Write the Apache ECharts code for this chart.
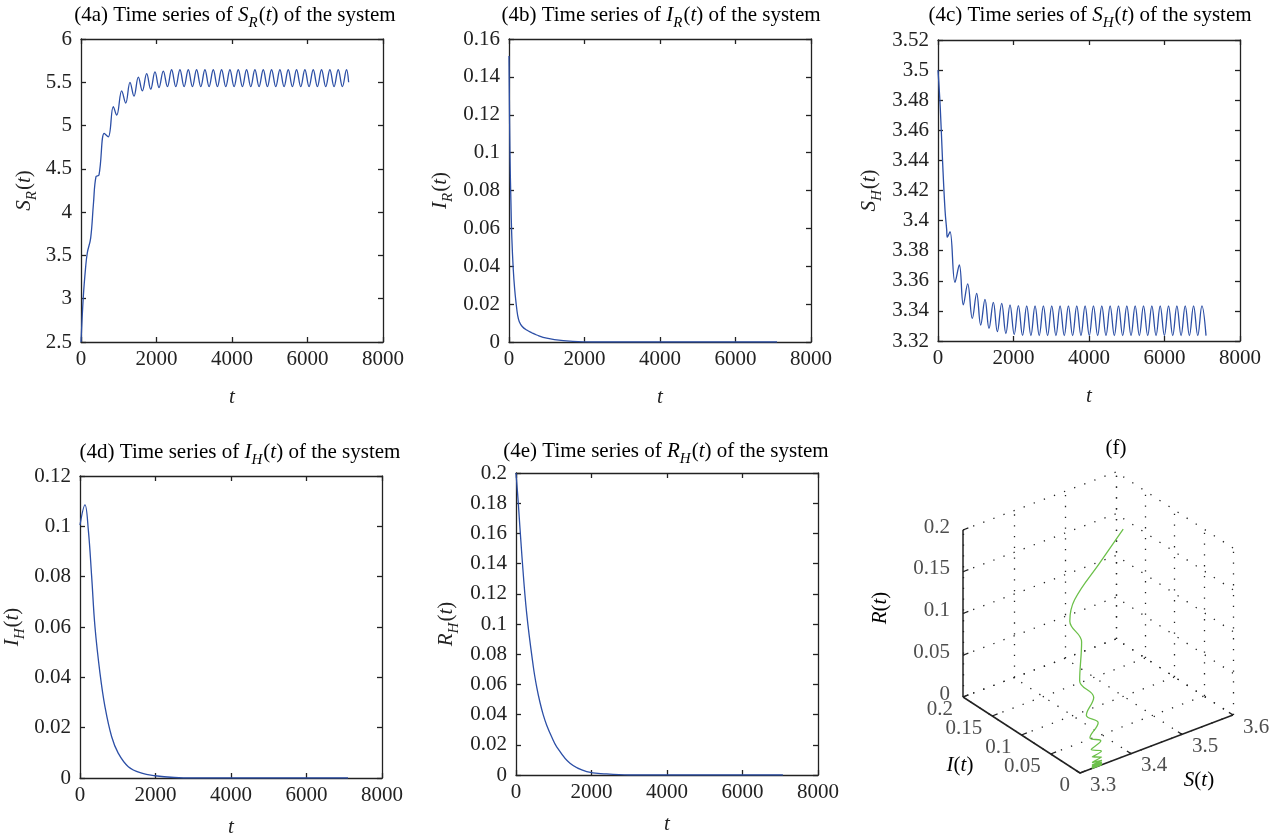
<!DOCTYPE html>
<html lang="en">
<head>
<meta charset="UTF-8">
<title>Time series of the system</title>
<style>
  html, body { margin: 0; padding: 0; background: #fff; }
  #main { width: 1271px; height: 836px; }
</style>
</head>
<body>
<div id="main"></div>
<script src="https://cdn.jsdelivr.net/npm/echarts@6/dist/echarts.min.js"></script>
<script>
// values, [t, value]
var tTicks = [0, 8000, 2000];

var sR = [[0, 2.5], [61, 3.02], [120, 3.35], [167, 3.53], [256, 3.70], [330, 4.1], [397, 4.41], [477, 4.43],
  [617, 4.91], [723, 4.87], [856, 5.22], [945, 5.12], [1078, 5.40], [1184, 5.26], [1298, 5.50], [1404, 5.34],
  [1519, 5.56], [1625, 5.40], [1740, 5.60], [1846, 5.42], [1960, 5.62], [2066, 5.44], [2180, 5.63], [2290, 5.45],
  [2400, 5.645], [2511, 5.45], [2621, 5.645], [2731, 5.45], [2842, 5.645], [2952, 5.45], [3062, 5.645], [3173, 5.45],
  [3283, 5.645], [3393, 5.45], [3504, 5.645], [3614, 5.45], [3724, 5.645], [3835, 5.45], [3945, 5.645], [4055, 5.45],
  [4166, 5.645], [4276, 5.45], [4386, 5.645], [4497, 5.45], [4607, 5.645], [4717, 5.45], [4828, 5.645], [4938, 5.45],
  [5048, 5.645], [5159, 5.45], [5269, 5.645], [5379, 5.45], [5490, 5.645], [5600, 5.45], [5710, 5.645], [5821, 5.45],
  [5931, 5.645], [6041, 5.45], [6152, 5.645], [6262, 5.45], [6372, 5.645], [6483, 5.45], [6593, 5.645], [6703, 5.45],
  [6814, 5.645], [6924, 5.45], [7034, 5.645], [7090, 5.50]];

var iR = [[0, 0.151], [25, 0.10], [50, 0.075], [75, 0.055], [114, 0.038], [150, 0.028], [185, 0.021], [230, 0.014],
  [273, 0.0107], [350, 0.0082], [469, 0.0063], [600, 0.0049], [733, 0.0037], [998, 0.0020], [1440, 0.0007],
  [1970, 0.0001], [2500, 0], [7100, 0]];

var sH = [[0, 3.5], [60, 3.475], [120, 3.44], [186, 3.407], [230, 3.394], [247, 3.389], [318, 3.3926], [450, 3.359],
  [565, 3.3705], [671, 3.344], [786, 3.358], [909, 3.335], [1024, 3.3517], [1131, 3.3306], [1245, 3.3477],
  [1351, 3.3284], [1466, 3.3457], [1572, 3.3262], [1687, 3.345], [1798, 3.325], [1908, 3.344], [2019, 3.3243],
  [2129, 3.3435], [2240, 3.3237], [2350, 3.3433], [2461, 3.3236], [2571, 3.3433], [2682, 3.3236], [2792, 3.3433],
  [2903, 3.3236], [3013, 3.3433], [3124, 3.3236], [3234, 3.3433], [3345, 3.3236], [3455, 3.3433], [3566, 3.3236],
  [3676, 3.3433], [3787, 3.3236], [3897, 3.3433], [4008, 3.3236], [4118, 3.3433], [4229, 3.3236], [4339, 3.3433],
  [4450, 3.3236], [4560, 3.3433], [4671, 3.3236], [4781, 3.3433], [4892, 3.3236], [5002, 3.3433], [5113, 3.3236],
  [5223, 3.3433], [5334, 3.3236], [5444, 3.3433], [5555, 3.3236], [5665, 3.3433], [5776, 3.3236], [5886, 3.3433],
  [5997, 3.3236], [6107, 3.3433], [6218, 3.3236], [6328, 3.3433], [6439, 3.3236], [6549, 3.3433], [6660, 3.3236],
  [6770, 3.3433], [6881, 3.3236], [6991, 3.3433], [7100, 3.3236]];

var iH = [[0, 0.1005], [132, 0.1085], [221, 0.0985], [309, 0.080], [397, 0.060], [530, 0.0416], [662, 0.0283],
  [839, 0.0164], [1015, 0.0098], [1280, 0.0045], [1634, 0.0019], [1987, 0.0009], [2500, 0.0002], [3000, 0], [7100, 0]];

var rH = [[0, 0.2], [61, 0.180], [151, 0.147], [283, 0.107], [459, 0.0717], [550, 0.058], [636, 0.048],
  [720, 0.040], [813, 0.033], [950, 0.025], [1078, 0.0187], [1430, 0.0077], [1873, 0.0022], [2400, 0.0007],
  [3000, 0], [7070, 0]];

// (f) trajectory [S, I, R]
var traj = [[3.5, 0.1005, 0.2], [3.46, 0.106, 0.166], [3.407, 0.1025, 0.136], [3.389, 0.095, 0.118],
  [3.3926, 0.078, 0.100], [3.359, 0.052, 0.073], [3.3705, 0.038, 0.057], [3.344, 0.0275, 0.0465],
  [3.358, 0.0195, 0.038], [3.335, 0.0135, 0.028], [3.3517, 0.0095, 0.0223], [3.3306, 0.0075, 0.0175],
  [3.3477, 0.005, 0.013], [3.3284, 0.0038, 0.011], [3.3457, 0.0028, 0.0072], [3.3262, 0.0022, 0.0055],
  [3.345, 0.0018, 0.004], [3.325, 0.0013, 0.003], [3.344, 0.001, 0.0024], [3.3243, 0.0008, 0.0019],
  [3.3435, 0.0006, 0.0014], [3.3237, 0.0005, 0.001], [3.3433, 0.0003, 0.0008], [3.3236, 0.0002, 0.0006],
  [3.3433, 0.0001, 0.0004], [3.3236, 0.0001, 0.0003], [3.3433, 0, 0.0002], [3.3236, 0, 0.0001],
  [3.3433, 0, 0], [3.3236, 0, 0], [3.3433, 0, 0], [3.3236, 0, 0]];
var fS = [3.3, 3.4, 3.5, 3.6];
var fI = [0, 0.05, 0.1, 0.15, 0.2];
var fR = [0, 0.05, 0.1, 0.15, 0.2];

var FONT = "'Liberation Serif', 'DejaVu Serif', serif";
var INK = '#222';
var BLUE = '#2c4fa6';
var GREEN = '#6cc04a';
var rich = {
  n: { fontFamily: FONT, fontSize: 21, color: INK },
  i: { fontFamily: FONT, fontSize: 21, fontStyle: 'italic', color: INK },
  sub: { fontFamily: FONT, fontSize: 15, fontStyle: 'italic', color: INK, padding: [16, 1, 0, 0] }
};
function sym(a, b) {
  return '{i|' + a + '}' + (b ? '{sub|' + b + '}' : '') + '{n|(}{i|t}{n|)}';
}

var panels = [
  { tag: '4a', a: 'S', b: 'R', data: sR, box: [81, 39, 302, 303], y: [2.5, 6, 0.5], title: [235, 15], yGap: 41, tGap: 45 },
  { tag: '4b', a: 'I', b: 'R', data: iR, box: [509, 39, 302, 303], y: [0, 0.16, 0.02], title: [661, 15], yGap: 53, tGap: 45 },
  { tag: '4c', a: 'S', b: 'H', data: sH, box: [938, 40, 302, 301], y: [3.32, 3.52, 0.02], title: [1090, 15], yGap: 53, tGap: 45 },
  { tag: '4d', a: 'I', b: 'H', data: iH, box: [80, 476, 302, 302], y: [0, 0.12, 0.02], title: [240, 452], yGap: 52, tGap: 39 },
  { tag: '4e', a: 'R', b: 'H', data: rH, box: [516, 473, 302, 302], y: [0, 0.2, 0.02], title: [666, 451], yGap: 54, tGap: 39 }
];

function plain(v) { return String(v); }

function axis(range, pos, labels) {
  return {
    type: 'value', position: pos, min: range[0], max: range[1], interval: range[2],
    splitLine: { show: false },
    axisLine: { show: true, onZero: false, lineStyle: { color: INK, width: 1.3 } },
    axisTick: { show: true, inside: true, length: 5, lineStyle: { color: INK, width: 1.3 } },
    axisLabel: { show: labels, color: INK, fontFamily: FONT, fontSize: 21, margin: 8, formatter: plain }
  };
}

var grids = [], xAxes = [], yAxes = [], series = [], graphic = [];

panels.forEach(function (p, k) {
  grids.push({ left: p.box[0], top: p.box[1], width: p.box[2], height: p.box[3],
    containLabel: false, outerBoundsMode: 'none' });
  var xb = axis(tTicks, 'bottom', true);
  xb.gridIndex = k;
  xb.name = '{i|t}';
  xb.nameLocation = 'middle';
  xb.nameGap = p.tGap;
  xb.nameTextStyle = { rich: rich };
  xb.axisLabel.margin = 7;
  var xt = axis(tTicks, 'top', false);
  xt.gridIndex = k;
  var yl = axis(p.y, 'left', true);
  yl.gridIndex = k;
  yl.name = sym(p.a, p.b);
  yl.nameLocation = 'middle';
  yl.nameRotate = 90;
  yl.nameGap = p.yGap;
  yl.nameTextStyle = { rich: rich };
  yl.axisLabel.margin = 9;
  var yr = axis(p.y, 'right', false);
  yr.gridIndex = k;
  xAxes.push(xb, xt);
  yAxes.push(yl, yr);
  series.push({
    type: 'line', xAxisIndex: 2 * k, yAxisIndex: 2 * k, data: p.data,
    showSymbol: false, smooth: 0.4, silent: true,
    lineStyle: { color: BLUE, width: 1.3 }
  });
  graphic.push({
    type: 'text', x: p.title[0], y: p.title[1],
    style: {
      text: '{n|(' + p.tag + ') Time series of }' + sym(p.a, p.b) + '{n| of the system}',
      rich: rich, align: 'center', verticalAlign: 'middle', textAlign: 'center', textVerticalAlign: 'middle'
    }
  });
});

// panel (f): a hidden pixel-like cartesian grid and a fixed oblique projection
var fIdx = panels.length;
var FB = { left: 880, top: 440, size: 380, ox: 200, oy: 333, s: [153, -58], i: [-117, -76], r: -167 };
var s0 = fS[0], s1 = fS[fS.length - 1], i0 = fI[0], i1 = fI[fI.length - 1], r0 = fR[0], r1 = fR[fR.length - 1];
function proj(S, I, R) {
  var a = (S - s0) / (s1 - s0), b = (I - i0) / (i1 - i0), c = (R - r0) / (r1 - r0);
  return [FB.ox + a * FB.s[0] + b * FB.i[0], FB.oy + a * FB.s[1] + b * FB.i[1] + c * FB.r];
}
function seg(list, p, q) {
  list.push({ coords: [proj(p[0], p[1], p[2]), proj(q[0], q[1], q[2])] });
}
grids.push({ left: FB.left, top: FB.top, width: FB.size, height: FB.size, containLabel: false, outerBoundsMode: 'none' });
xAxes.push({ type: 'value', gridIndex: fIdx, min: 0, max: FB.size, show: false });
yAxes.push({ type: 'value', gridIndex: fIdx, min: 0, max: FB.size, inverse: true, show: false });

var dots = [], solid = [], ticks = [];
fS.forEach(function (s) { seg(dots, [s, i0, r0], [s, i1, r0]); });
fI.forEach(function (v) { seg(dots, [s0, v, r0], [s1, v, r0]); });
fS.forEach(function (s) { seg(dots, [s, i1, r0], [s, i1, r1]); });
fR.forEach(function (r) { seg(dots, [s0, i1, r], [s1, i1, r]); });
fI.forEach(function (v) { seg(dots, [s1, v, r0], [s1, v, r1]); });
fR.forEach(function (r) { seg(dots, [s1, i0, r], [s1, i1, r]); });
seg(solid, [s0, i1, r0], [s0, i1, r1]);
seg(solid, [s0, i0, r0], [s0, i1, r0]);
seg(solid, [s0, i0, r0], [s1, i0, r0]);
var ds = (s1 - s0) * 0.035, di = (i1 - i0) * 0.035;
fR.forEach(function (r) { seg(ticks, [s0, i1, r], [s0 + ds, i1, r]); });
fI.forEach(function (v) { seg(ticks, [s0, v, r0], [s0 + ds, v, r0]); });
fS.forEach(function (s) { seg(ticks, [s, i0, r0], [s, i0 + di, r0]); });

function linesSeries(data, style) {
  return { type: 'lines', coordinateSystem: 'cartesian2d', xAxisIndex: 2 * fIdx, yAxisIndex: 2 * fIdx,
    data: data, silent: true, lineStyle: style };
}
series.push(linesSeries(dots, { color: INK, width: 1.3, type: [1.3, 9.5], opacity: 1 }));
series.push(linesSeries(solid, { color: INK, width: 1.5, type: 'solid', opacity: 1 }));
series.push(linesSeries(ticks, { color: INK, width: 1.3, type: 'solid', opacity: 1 }));
series.push({
  type: 'line', xAxisIndex: 2 * fIdx, yAxisIndex: 2 * fIdx, silent: true,
  data: traj.map(function (p) { return proj(p[0], p[1], p[2]); }),
  showSymbol: false, smooth: 0.4, lineStyle: { color: GREEN, width: 1.3 }, z: 5
});
function labelSeries(items, align, pos) {
  return {
    type: 'scatter', xAxisIndex: 2 * fIdx, yAxisIndex: 2 * fIdx, silent: true,
    symbolSize: 0, itemStyle: { color: 'transparent' }, data: items,
    label: { show: true, formatter: '{b}', position: pos, align: align, verticalAlign: 'middle',
      color: INK, fontFamily: FONT, fontSize: 21 }
  };
}
series.push(labelSeries(fS.map(function (s) { return { name: String(s), value: proj(s, i0, r0) }; }), 'left', [10, 12]));
series.push(labelSeries(fI.map(function (v) { return { name: String(v), value: proj(s0, v, r0) }; }), 'right', [-10, 12]));
series.push(labelSeries(fR.map(function (r) { return { name: String(r), value: proj(s0, i1, r) }; }), 'right', [-13, -3]));

function gtext(x, y, text, rot) {
  return { type: 'text', x: x, y: y, rotation: rot || 0,
    style: { text: text, rich: rich, align: 'center', verticalAlign: 'middle', textAlign: 'center', textVerticalAlign: 'middle' } };
}
graphic.push(gtext(1116, 448, '{n|(f)}'));
graphic.push(gtext(1199, 780, sym('S')));
graphic.push(gtext(960, 765, sym('I')));
graphic.push(gtext(880, 608, sym('R'), Math.PI / 2));

var chart = echarts.init(document.getElementById('main'));
chart.setOption({
  backgroundColor: '#fff',
  animation: false,
  grid: grids,
  xAxis: xAxes,
  yAxis: yAxes,
  series: series,
  graphic: graphic
});
</script>
</body>
</html>
